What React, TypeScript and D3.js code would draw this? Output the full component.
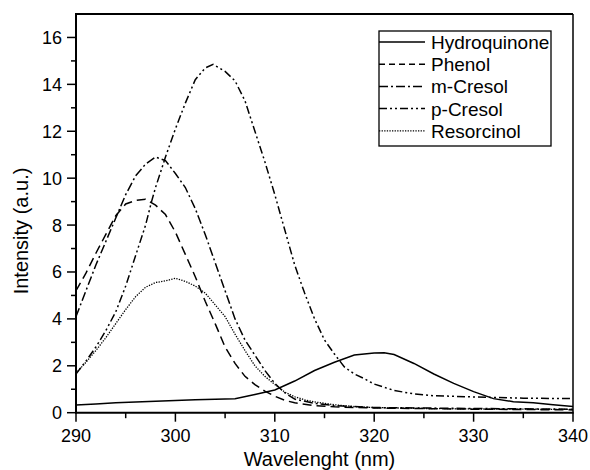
import React from "react";
import * as d3 from "d3";

const hydroquinoneX = [290, 292, 294, 296, 298, 300, 302, 304, 306, 308, 310, 312, 314, 316, 318, 320, 321, 322, 324, 326, 328, 330, 332, 334, 336, 338, 340];
const hydroquinoneY = [0.33, 0.37, 0.42, 0.46, 0.49, 0.52, 0.55, 0.57, 0.6, 0.78, 0.97, 1.35, 1.8, 2.15, 2.46, 2.55, 2.56, 2.48, 2.1, 1.65, 1.25, 0.9, 0.6, 0.47, 0.42, 0.34, 0.26];

const phenolX = [290, 291, 292, 293, 294, 295, 296, 297, 298, 299, 300, 301, 302, 303, 304, 305, 306, 307, 308, 309, 310, 311, 312, 314, 316, 320, 330, 340];
const phenolY = [5.2, 5.95, 6.8, 7.6, 8.4, 8.9, 9.05, 9.1, 8.85, 8.45, 7.7, 6.75, 5.8, 4.75, 3.8, 2.8, 2.1, 1.55, 1.2, 0.92, 0.7, 0.53, 0.42, 0.3, 0.25, 0.2, 0.15, 0.12];

const mCresolX = [290, 291, 292, 293, 294, 295, 296, 297, 298, 299, 300, 301, 302, 303, 304, 305, 306, 307, 308, 309, 310, 311, 312, 314, 316, 320, 330, 340];
const mCresolY = [4.1, 5.2, 6.3, 7.3, 8.3, 9.3, 10.1, 10.6, 10.9, 10.75, 10.2, 9.6, 8.7, 7.6, 6.4, 5.2, 4.0, 3.1, 2.45, 1.8, 1.25, 0.85, 0.58, 0.4, 0.3, 0.22, 0.18, 0.15];

const pCresolX = [290, 291, 292, 293, 294, 295, 296, 297, 297.6, 298, 299, 300, 301, 302, 303, 303.8, 305, 306, 307, 308, 309, 310, 311, 312, 313, 314, 315, 316, 317, 318, 319, 320, 322, 324, 326, 328, 330, 335, 340];
const pCresolY = [1.65, 2.2, 2.8, 3.5, 4.3, 5.4, 6.7, 8.0, 9.0, 9.6, 10.9, 12.1, 13.2, 14.2, 14.7, 14.85, 14.55, 14.15, 13.3, 12.0, 10.7, 9.3, 7.8, 6.3, 5.1, 4.0, 3.1, 2.5, 1.95, 1.65, 1.45, 1.22, 0.95, 0.8, 0.72, 0.7, 0.67, 0.62, 0.6];

const resorcinolX = [290, 291, 292, 293, 294, 295, 296, 297, 298, 299, 300, 301, 302, 303, 304, 305, 306, 307, 308, 309, 310, 311, 312, 313, 314, 316, 318, 320, 325, 330, 340];
const resorcinolY = [1.69, 2.15, 2.65, 3.2, 3.8, 4.4, 4.95, 5.35, 5.55, 5.62, 5.73, 5.6, 5.4, 5.1, 4.6, 4.1, 3.35, 2.65, 2.0, 1.55, 1.2, 0.88, 0.68, 0.55, 0.46, 0.34, 0.26, 0.22, 0.18, 0.16, 0.14];

const seriesNames = ["Hydroquinone", "Phenol", "m-Cresol", "p-Cresol", "Resorcinol"];
const xTicks = [290, 300, 310, 320, 330, 340];
const yTicks = [0, 2, 4, 6, 8, 10, 12, 14, 16];

const FONT = "Liberation Sans, Arial, Helvetica, sans-serif";

export default function App() {
  const left = 76, right = 573, top = 14, bottom = 412.7;
  const x = d3.scaleLinear().domain([290, 340]).range([left, right]);
  const y = d3.scaleLinear().domain([0, 17]).range([bottom, top]);

  const series = [
    { name: seriesNames[0], xs: hydroquinoneX, ys: hydroquinoneY, dash: "none", w: 1.5 },
    { name: seriesNames[1], xs: phenolX, ys: phenolY, dash: "9,5", w: 1.5 },
    { name: seriesNames[2], xs: mCresolX, ys: mCresolY, dash: "9,3,2,3", w: 1.5 },
    { name: seriesNames[3], xs: pCresolX, ys: pCresolY, dash: "8,3,2,3,2,3", w: 1.5 },
    { name: seriesNames[4], xs: resorcinolX, ys: resorcinolY, dash: "1.3,1.3", w: 1.3 },
  ];

  const line = d3
    .line<[number, number]>()
    .x((d) => x(d[0]))
    .y((d) => y(d[1]));

  const minorX = d3.range(295, 340, 10);
  const minorY = d3.range(1, 17, 2);

  const legX = 379, legY = 31, legW = 172, legH = 115;
  const rowH = 22.2;

  return (
    <svg width={590} height={470} style={{ position: "absolute", left: 0, top: 0, background: "#fff" }} fontFamily={FONT}>
      <defs>
        <clipPath id="plot">
          <rect x={left} y={top} width={right - left} height={bottom - top} />
        </clipPath>
      </defs>
      <rect x={0} y={0} width={590} height={470} fill="#fff" />
      <g clipPath="url(#plot)">
        {series.map((s) => (
          <path
            key={s.name}
            d={line(s.xs.map((v, i) => [v, s.ys[i]] as [number, number])) || ""}
            fill="none"
            stroke="#000"
            strokeWidth={s.w}
            strokeDasharray={s.dash}
          />
        ))}
      </g>
      {/* frame */}
      <line x1={left - 1} x2={right} y1={top} y2={top} stroke="#000" strokeWidth={2} />
      <line x1={right} x2={right} y1={top} y2={bottom} stroke="#000" strokeWidth={1.5} />
      <line x1={left} x2={left} y1={top - 1} y2={bottom + 1} stroke="#000" strokeWidth={2} />
      <line x1={left - 1} x2={right + 0.75} y1={bottom} y2={bottom} stroke="#000" strokeWidth={2} />
      {/* x ticks */}
      {xTicks.map((t) => (
        <g key={"x" + t}>
          <line x1={x(t)} x2={x(t)} y1={bottom} y2={bottom + 9} stroke="#000" strokeWidth={1.5} />
          <text x={x(t)} y={441.5} fontSize={18} textAnchor="middle">{t}</text>
        </g>
      ))}
      {minorX.map((t) => (
        <line key={"mx" + t} x1={x(t)} x2={x(t)} y1={bottom} y2={bottom + 5.5} stroke="#000" strokeWidth={1.5} />
      ))}
      {/* y ticks */}
      {yTicks.map((t) => (
        <g key={"y" + t}>
          <line x1={left - 9} x2={left} y1={y(t)} y2={y(t)} stroke="#000" strokeWidth={1.5} />
          <text x={62} y={y(t) + 6.5} fontSize={18} textAnchor="end">{t}</text>
        </g>
      ))}
      {minorY.map((t) => (
        <line key={"my" + t} x1={left - 5} x2={left} y1={y(t)} y2={y(t)} stroke="#000" strokeWidth={1.5} />
      ))}
      {/* axis titles */}
      <text x={319.5} y={466} fontSize={20} textAnchor="middle">Wavelenght (nm)</text>
      <text transform="translate(28,231) rotate(-90)" fontSize={20} textAnchor="middle">Intensity (a.u.)</text>
      {/* legend */}
      <rect x={legX} y={legY} width={legW} height={legH} fill="#fff" stroke="#000" strokeWidth={1.3} />
      {series.map((s, i) => {
        const cy = legY + 11 + i * rowH;
        return (
          <g key={"leg" + s.name}>
            <line x1={legX} x2={legX + 46} y1={cy} y2={cy} stroke="#000" strokeWidth={s.w} strokeDasharray={s.dash === "9,5" ? "6,4" : s.dash} />
            <text x={legX + 52} y={cy + 7} fontSize={19}>{s.name}</text>
          </g>
        );
      })}
    </svg>
  );
}
